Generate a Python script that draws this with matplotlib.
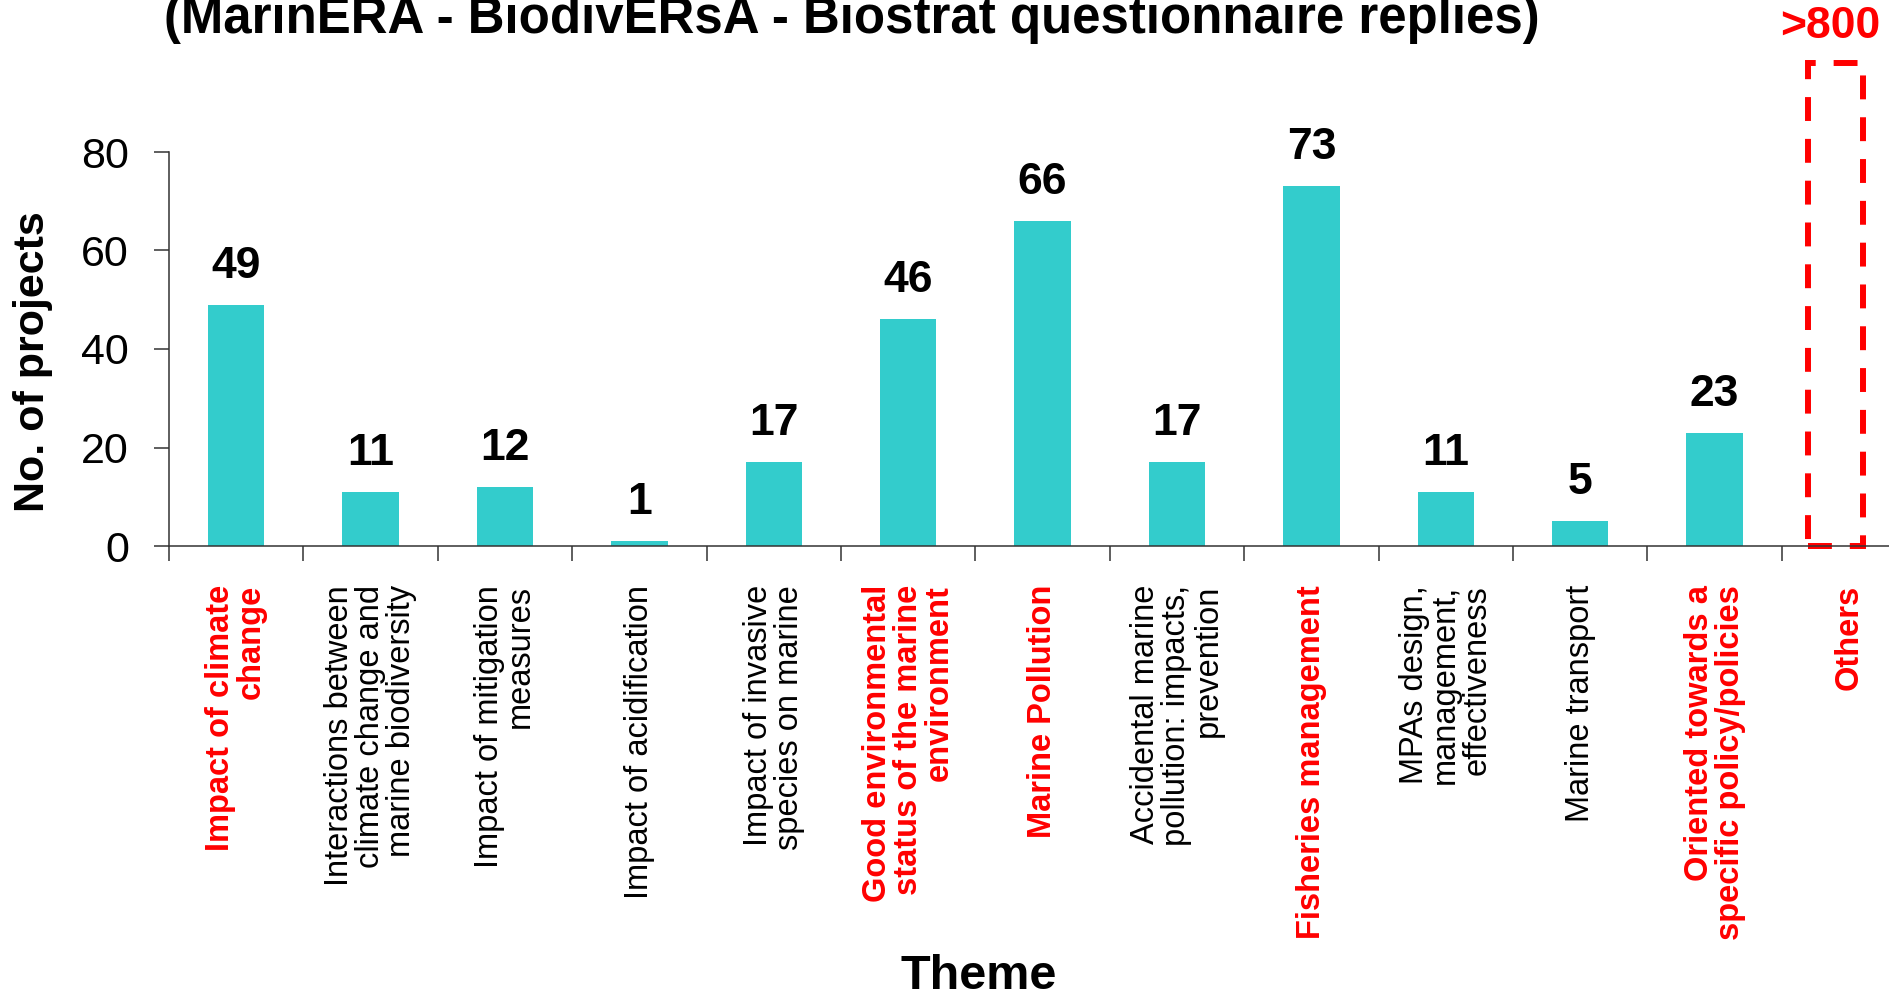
import matplotlib
matplotlib.use("Agg")
import matplotlib.pyplot as plt
from matplotlib.patches import Rectangle

plt.rcParams['font.family'] = ['Liberation Sans', 'DejaVu Sans']

# data
themes = [
    "Impact of climate\nchange",
    "Interactions between\nclimate change and\nmarine biodiversity",
    "Impact of mitigation\nmeasures",
    "Impact of acidification",
    "Impact of invasive\nspecies on marine",
    "Good environmental\nstatus of the marine\nenvironment",
    "Marine Pollution",
    "Accidental marine\npollution: impacts,\nprevention",
    "Fisheries management",
    "MPAs design,\nmanagement,\neffectiveness",
    "Marine transport",
    "Oriented towards a\nspecific policy/policies",
    "Others",
]
projects = [49, 11, 12, 1, 17, 46, 66, 17, 73, 11, 5, 23]
highlight = [True, False, False, False, False, True, True, False, True, False, False, True, True]
others_text = ">800"
others_box_top = 98  # "Others" is off the scale, drawn as a dashed box
yticks = [0, 20, 40, 60, 80]

teal = '#33CCCC'
red = '#FF0000'
dark = '#333333'

W, H = 1890, 996
fig = plt.figure(figsize=(W / 100, H / 100), dpi=100)
ax = fig.add_axes([169 / W, (H - 546) / H, (W - 169) / W, 394 / H])

x = list(range(len(themes)))
ax.bar(x[:len(projects)], projects, width=0.42, color=teal, zorder=2)
for xi, v in zip(x, projects):
    ax.annotate(str(v), (xi, v), xytext=(0, 19.5), textcoords='offset points',
                ha='center', va='baseline', fontsize=32, fontweight='bold')

# dashed box for "Others"
ox = x[-1] - 0.1
box = Rectangle((ox - 0.205, 0), 0.41, others_box_top, fill=False,
                edgecolor=red, lw=4.3, linestyle=(0, (4, 3)),
                clip_on=False, zorder=3)
ax.add_patch(box)
ax.annotate(others_text, (ox, others_box_top), xytext=(-4, 18),
            textcoords='offset points', ha='center', va='baseline',
            fontsize=32, fontweight='bold', color=red, annotation_clip=False)

ax.set_xlim(-0.5, -0.5 + (W - 169) / 134.4)
ax.set_ylim(0, 80)

# axes styling
for s in ['top', 'right']:
    ax.spines[s].set_visible(False)
for s in ['left', 'bottom']:
    ax.spines[s].set_color(dark)
    ax.spines[s].set_linewidth(1.1)
    ax.spines[s].set_zorder(4)

ax.set_yticks(yticks)
ax.tick_params(axis='y', direction='out', length=10.8, width=1.1, color=dark,
               labelsize=31, pad=18)

ax.set_xticks(x)
ax.set_xticklabels(themes, rotation=90, ha='center', va='top', fontsize=23.5,
                   linespacing=1.0)
ax.set_xticks([i - 0.5 for i in x], minor=True)
ax.tick_params(axis='x', which='major', length=0, pad=28)
ax.tick_params(axis='x', which='minor', direction='out', length=11, width=1.1,
               color=dark)
for lab, hl in zip(ax.get_xticklabels(), highlight):
    lab.set_multialignment('right')
    if hl:
        lab.set_color(red)
        lab.set_fontweight('bold')

fig.text(33 / W, 1 - 362 / H, 'No. of projects', rotation=90, ha='center',
         va='center', fontsize=31, fontweight='bold')
fig.text(979 / W, 1 - 989 / H, 'Theme', ha='center', va='baseline',
         fontsize=35, fontweight='bold')
fig.text(852 / W, 1 - 33 / H,
         '(MarinERA - BiodivERsA - Biostrat questionnaire replies)',
         ha='center', va='baseline', fontsize=36.7, fontweight='bold')

fig.savefig('out.png', dpi=100)
